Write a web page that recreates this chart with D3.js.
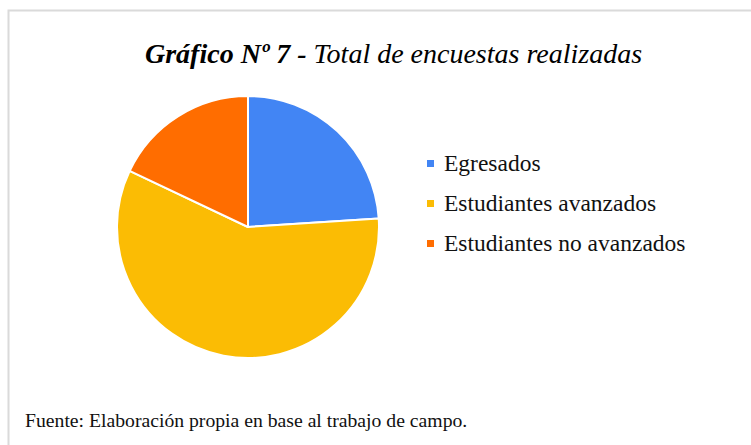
<!DOCTYPE html>
<html>
<head>
<meta charset="utf-8">
<script src="https://cdn.jsdelivr.net/npm/d3@7"></script>
<style>
  body { margin: 0; background: #fff; }
  svg { display: block; }
</style>
</head>
<body>
<div id="chart"></div>
<script>
// datos
const categorias = ["Egresados", "Estudiantes avanzados", "Estudiantes no avanzados"];
const valores = [40, 97, 30];
const colores = ["#4285f4", "#fbbc04", "#ff6d00"];

const titulo1 = "Gráfico Nº 7 - ";
const titulo2 = "Total de encuestas realizadas";
const fuente = "Fuente: Elaboración propia en base al trabajo de campo.";

const width = 751;
const height = 445;
const serif = "Liberation Serif";

const svg = d3.select("#chart").append("svg")
  .attr("width", width)
  .attr("height", height);

// marco gris
svg.append("path")
  .attr("d", `M8.5,${height} L8.5,10.5 L${width},10.5`)
  .attr("fill", "none")
  .attr("stroke", "#dadada")
  .attr("stroke-width", 2);

// titulo
const t = svg.append("text")
  .attr("x", 145)
  .attr("y", 63)
  .style("font-family", serif)
  .style("font-size", "28px")
  .style("font-style", "italic")
  .attr("fill", "#000");

t.append("tspan").style("font-weight", "bold").text(titulo1);
t.append("tspan").text(titulo2);

// torta
const cx = 248, cy = 227, r = 131;

const pie = d3.pie().sort(null).value(d => d);
const arc = d3.arc().innerRadius(0).outerRadius(r);

const color = d3.scaleOrdinal().domain(categorias).range(colores);

svg.append("g")
  .attr("transform", `translate(${cx},${cy})`)
  .selectAll("path")
  .data(pie(valores))
  .join("path")
  .attr("d", arc)
  .attr("fill", (d, i) => color(categorias[i]))
  .attr("stroke", "#fff")
  .attr("stroke-width", 2)
  .attr("stroke-linejoin", "round");

// leyenda
const y = d3.scalePoint().domain(categorias).range([171, 251]);

const leg = svg.append("g")
  .selectAll("g")
  .data(categorias)
  .join("g")
  .attr("transform", d => `translate(0,${y(d)})`);

leg.append("rect")
  .attr("x", 427)
  .attr("y", -11)
  .attr("width", 7)
  .attr("height", 7)
  .attr("fill", d => color(d));

leg.append("text")
  .attr("x", 444)
  .attr("y", 0)
  .style("font-family", serif)
  .style("font-size", "23.5px")
  .style("fill", "#111")
  .text(d => d);

// fuente
svg.append("text")
  .attr("x", 25)
  .attr("y", 427)
  .style("font-family", serif)
  .style("font-size", "19.7px")
  .style("fill", "#111")
  .text(fuente);
</script>
</body>
</html>
